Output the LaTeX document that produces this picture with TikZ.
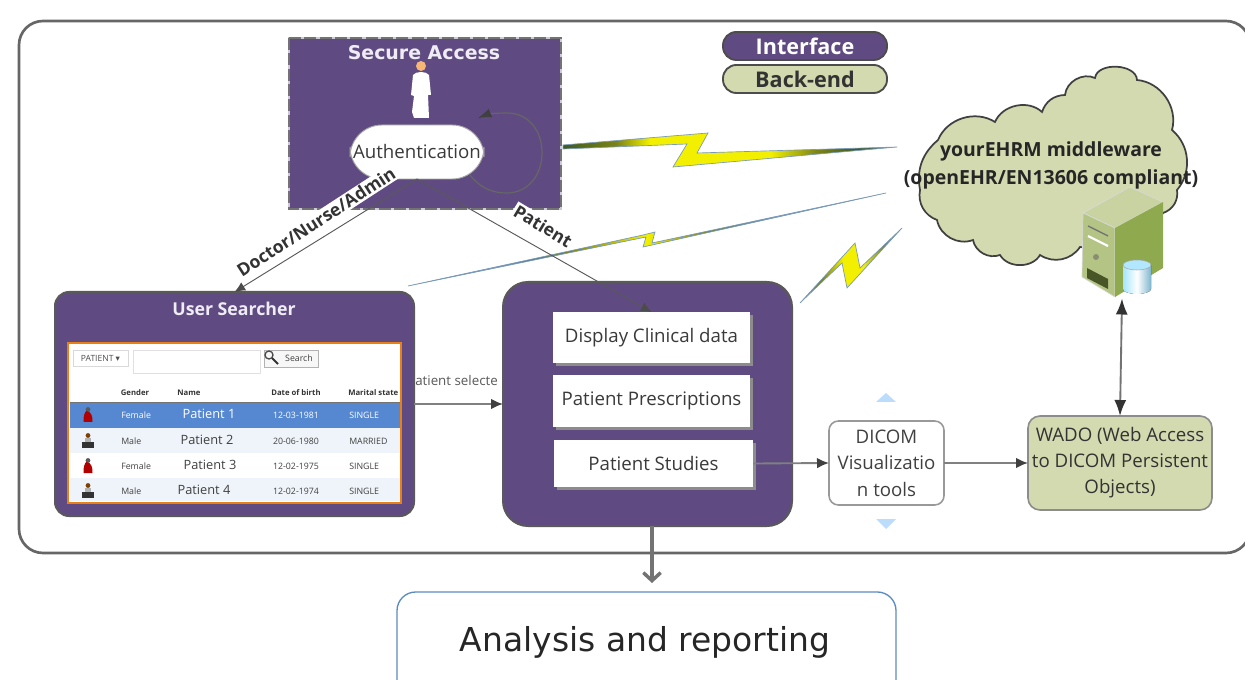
\documentclass[tikz,border=0pt]{standalone}
\usepackage{fontspec}
\setmainfont{Open Sans}
\newfontfamily\dvs{DejaVu Sans}
\usetikzlibrary{arrows.meta,shadows,calc}
\definecolor{purp}{HTML}{5F4B82}
\definecolor{olivefill}{HTML}{D3DAB0}
\definecolor{olivedark}{HTML}{8FAA4E}
\definecolor{selrow}{HTML}{5688D2}
\definecolor{altrow}{HTML}{EFF4FA}
\definecolor{txt}{HTML}{3A3A3A}
\definecolor{blueedge}{HTML}{5B8BC0}
\definecolor{tri}{HTML}{BBDDFB}
\definecolor{bb}{HTML}{3F6F99}
\definecolor{bg}{HTML}{3E5A22}
\definecolor{bo}{HTML}{7C8416}
\definecolor{by}{HTML}{F2F000}
\pgfdeclarehorizontalshading{boltone}{100bp}{
  color(0bp)=(bg); color(25bp)=(bg); color(33bp)=(bo); color(38bp)=(by);
  color(56bp)=(by); color(63bp)=(bo); color(69bp)=(bg); color(75bp)=(bb); color(100bp)=(bb)}
\pgfdeclarehorizontalshading{bolttwo}{100bp}{
  color(0bp)=(bb); color(25bp)=(bb); color(37bp)=(bb); color(42bp)=(bo);
  color(50bp)=(by); color(56bp)=(bo); color(63bp)=(bb); color(75bp)=(bb); color(100bp)=(bb)}
\pgfdeclarehorizontalshading{boltthree}{100bp}{
  color(0bp)=(bb); color(25bp)=(bb); color(36bp)=(bo); color(46bp)=(by);
  color(56bp)=(by); color(66bp)=(bo); color(75bp)=(bb); color(100bp)=(bb)}
\tikzset{
  x=0.75pt,y=-0.75pt,
  sz/.style 2 args={minimum width=#1*0.75pt,minimum height=#2*0.75pt,inner sep=0pt,outer sep=0pt},
  panel/.style={draw=black!65,line width=1.5pt,fill=purp,rounded corners=#1*0.75pt},
  whitebox/.style={fill=white,text=txt,font=\fontsize{14}{16}\selectfont,
     general shadow={fill=black!45,shadow xshift=2.2pt,shadow yshift=-2.2pt}},
  legendbox/.style={draw=black!70,line width=1.4pt,rounded corners=10pt,font=\bfseries\fontsize{16.2}{18}\selectfont},
  flow/.style={draw=black!50,line width=1.4pt,-{Latex[length=9pt,width=8pt,color=black!75]}},
  thin flow/.style={draw=black!65,line width=0.7pt,-{Latex[length=8pt,width=7pt,color=black!70]}},
  edgelabel/.style={fill=white,inner sep=1.2pt,text=black!80,font=\bfseries\fontsize{13.2}{15}\selectfont},
  tiny/.style={font=\fontsize{6.6}{8}\selectfont,text=black!75,inner sep=0pt},
  tinyb/.style={font=\bfseries\fontsize{5.8}{7}\selectfont,text=black!80,inner sep=0pt},
  pname/.style={font=\fontsize{9.6}{11}\selectfont,text=black!75,inner sep=0pt},
  bolt/.style={draw=bb!70,line width=0.5pt},
  femicon/.pic={
    \fill[black!65] (0,-5.5) circle[radius=2.4];
    \fill[red!70!black] (-1.5,-4) .. controls (3,-4) and (5,2) .. (4.5,7) -- (-4.5,7) .. controls (-5,2) and (-3,-4) .. (-1.5,-4) -- cycle;},
  malicon/.pic={
    \fill[orange!50!black] (0,-5.5) circle[radius=2.4];
    \fill[black!30] (-3,-3) rectangle (3,1);
    \fill[black!80] (-6,7) rectangle (6,1);}
}
\begin{document}
\begin{tikzpicture}
\useasboundingbox (0,0) rectangle (1245,680);
\clip (0,0) rectangle (1245,680);
\fill[white] (0,0) rectangle (1245,680);
% outer frame
\draw[black!60,line width=2pt,rounded corners=18pt] (19,21) rectangle (1250,553);

% analysis box
\node[sz={499}{130},draw=blueedge,line width=1pt,rounded corners=14pt,fill=white] (analysis) at (646.5,657) {};
\node[font=\dvs\fontsize{24.7}{28}\selectfont,text=black!85] (analysisText) at (645,642) {Analysis and reporting};
\coordinate (repTip) at (652,583);

% legend
\node[sz={164}{28},legendbox,fill=purp,text=white] (legI) at (805,46) {Interface};
\node[sz={164}{28},legendbox,fill=olivefill,text=black!80] (legB) at (805,79) {Back-end};

% secure access
\node[sz={272}{171},fill=purp,draw=white!70!purp,line width=1.2pt] (secure) at (425,123.5) {};
\draw[black!55,line width=1.2pt,dash pattern=on 9pt off 2.5pt] (secure.north west) rectangle (secure.south east);
\node[text=white!90!purp,font=\dvs\bfseries\fontsize{14.2}{16}\selectfont] (secureT) at (424,53) {Secure Access};
% person
\fill[white] (413,75) .. controls (416,71) and (426,71) .. (429,75) -- (431,95) -- (428,95) -- (429,118) -- (414,118) -- (412,112) -- (414,96) -- (411,95) -- cycle;
\fill[orange!50!white!85!brown] (421,66) circle[radius=5];
% authentication
\node[sz={134}{54},rounded corners=24pt,fill=white,draw=black!35,line width=0.7pt,text=txt,font=\fontsize{14}{16}\selectfont] (auth) at (417,152) {Authentication};
% self loop
\draw[black!60,line width=0.9pt,-{Latex[length=10pt,width=7pt,color=black!75]}]
  ($(auth.east)+(-14,23)$) .. controls (482,190) and (495,193) .. (507,193) .. controls (528,193) and (542,175) .. (542,153) .. controls (542,130) and (528,113) .. (507,113) .. controls (497,113) and (488,114) .. (478,118);

% user searcher
\node[sz={359}{224},panel=14] (us) at (234.5,404) {};
\node[text=white!90!purp,font=\bfseries\fontsize{13.3}{16}\selectfont] (usT) at (234,309) {User Searcher};
\node[sz={333}{160},fill=white,draw=orange!65!brown,line width=1.2pt] (tbl) at (234.5,423) {};
\node[sz={55}{16},draw=black!15,line width=.5pt,font=\fontsize{6.4}{8}\selectfont,text=black!70] (ddl) at (100.5,358) {PATIENT {\dvs ▾}};
\node[sz={127}{23},draw=black!12,line width=.5pt] (inp) at (196.5,361.5) {};
\node[sz={54}{17},draw=black!30,line width=.5pt,fill=black!3] (srch) at (291,358.5) {};
\node[tiny] (srchT) at (299,358.5) {Search};
\draw[black!70,line width=1pt] (269,355) circle[radius=4];
\draw[black!80,line width=1.4pt] (272,358) -- (278,364);
\fill[selrow] (70,402) rectangle (400,428);
\fill[altrow] (70,428) rectangle (400,453);
\fill[altrow] (70,478) rectangle (400,501);
\draw[black!55,line width=.6pt] (70,402) -- (400,402);
\node[tinyb] (h1) at (135,393) {Gender};
\node[tinyb] (h2) at (189,393) {Name};
\node[tinyb] (h3) at (296,393) {Date of birth};
\begin{scope}
\clip (340,385) rectangle (400.5,400);
\node[tinyb,anchor=west] (h4) at (348,393) {Marital state};
\end{scope}
\foreach \yy/\g/\d/\m/\nx/\pn/\c in {415/Female/12-03-1981/SINGLE/209/Patient 1/white,441/Male/20-06-1980/MARRIED/207/Patient 2/black!75,466/Female/12-02-1975/SINGLE/210/Patient 3/black!75,491/Male/12-02-1974/SINGLE/204/Patient 4/black!75}{
  \node[tiny,text=\c,anchor=west] at (121,\yy) {\g};
  \node[pname,text=\c] at (\nx,\yy-1) {\pn};
  \node[tiny,text=\c] at (296,\yy) {\d};
  \node[tiny,text=\c,anchor=west] at (349,\yy) {\m};
}
\pic at (88,415) {femicon};
\pic at (88,441) {malicon};
\pic at (88,466) {femicon};
\pic at (88,491) {malicon};

% central panel
\node[sz={289}{244},panel=25] (central) at (647.5,404) {};
\node[sz={197}{51},whitebox] (disp) at (651.5,337.5) {Display Clinical data};
\node[sz={197}{52},whitebox] (presc) at (651.5,401) {Patient Prescriptions};
\node[sz={199}{47},whitebox] (stud) at (653.5,463.5) {Patient Studies};

% dicom & wado
\node[sz={115}{84},draw=black!40,line width=1.2pt,rounded corners=7pt,fill=white,text=black!75,align=center,font=\fontsize{14}{20}\selectfont] (dicom) at (886.5,463) {DICOM\\Visualizatio\\n tools};
\node[sz={184}{94},draw=black!45,line width=1.2pt,rounded corners=9pt,fill=olivefill,text=black!80,align=center,font=\fontsize{14}{19.5}\selectfont] (wado) at (1120,463) {WADO (Web Access\\to DICOM Persistent\\Objects)};
\fill[tri] (886,393) -- (896,402) -- (876,402) -- cycle;
\fill[tri] (886,529) -- (896,519) -- (876,519) -- cycle;

% cloud
\path[draw=black!75,line width=1.3pt,fill=olivefill]
  (920,190) to[bend left=30] (938,140) to[bend left=50] (995,122) to[bend left=55] (1042,112)
  to[bend left=35] (1065,95) to[bend left=55] (1095,78) to[bend left=85] (1137,80)
  to[bend left=50] (1172,130) to[bend left=45] (1177,190) to[bend left=40] (1163,213)
  to[bend left=30] (1080,247) to[bend left=45] (1040,255) to[bend left=60] (1000,255)
  to[bend left=50] (973,240) to[bend left=50] (937,220) to[bend left=40] (920,190) -- cycle;
\node[align=center,text=black!85,font=\bfseries\fontsize{14.6}{21}\selectfont] (cloudT) at (1051,165) {yourEHRM middleware\\(openEHR/EN13606 compliant)};

% server
\fill[olivefill!85!olivedark,draw=white!85!black,line width=.5pt] (1083,213) -- (1130,187) -- (1163,202) -- (1115,228) -- cycle;
\fill[olivefill!55!olivedark,draw=white!85!black,line width=.5pt] (1083,213) -- (1115,228) -- (1115,297) -- (1082,277) -- cycle;
\fill[olivedark] (1115,228) -- (1163,202) -- (1163,268) -- (1115,297) -- cycle;
\fill[black!50!olivedark] (1087,268) -- (1108,279) -- (1108,289) -- (1087,278) -- cycle;
\fill[black!35!olivefill] (1096,257) circle[radius=3];
\draw[white,line width=1.6pt] (1088,236) -- (1108,246);
\draw[black!55,line width=1pt] (1088,226) -- (1108,236);
\fill[left color=blue!30!cyan!35!white,right color=blue!30!cyan!45!gray!70!white,middle color=white] (1123,265) -- (1123,289) arc[start angle=180,end angle=360,x radius=14,y radius=-5] -- (1151,265) -- cycle;
\fill[blue!30!cyan!30!white,draw=black!35,line width=.4pt] (1137,265) ellipse[x radius=14,y radius=5];
\node[sz={1}{1}] (srv) at (1122,298) {};

% bolts
\path[bolt,shading=boltone] (563,145) -- (708,133) -- (697,153) -- (897,147) -- (673,167) -- (687,144) -- (563,149) -- cycle;
\path[bolt,shading=bolttwo] (408,286) -- (643,235) -- (655,232) -- (652,243) -- (886,193) -- (643,247) -- (646,237) -- cycle;
\path[bolt,shading=boltthree] (800,303) -- (855,243) -- (860,268) -- (902,228) -- (847,288) -- (842,263) -- cycle;

% connectors
\draw[thin flow] (auth.south) -- (us.north);
\draw[thin flow] (auth.south) -- (disp.north);
\draw[flow] (us.east) -- (central.west);
\draw[flow] (stud.east) -- (dicom.west);
\draw[flow] (dicom.east) -- (wado.west);
\draw[draw=black!55,line width=1.4pt,{Latex[length=12pt,width=9pt,color=black!80]}-{Latex[length=12pt,width=9pt,color=black!80]}] (srv) -- (wado.north);
\draw[draw=black!55,line width=2.6pt,-{Straight Barb[length=6pt,width=13pt]}] (repTip |- central.south) -- (repTip);

% labels
\node[edgelabel,rotate=33] (ldoc) at (316,222) {Doctor/Nurse/Admin};
\node[edgelabel,rotate=-31] (lpat) at (543,226) {Patient};
\node[font=\fontsize{10}{12}\selectfont,text=black!65,anchor=west,inner sep=0pt] (lsel) at (415,381) {atient selecte};
\end{tikzpicture}
\end{document}
